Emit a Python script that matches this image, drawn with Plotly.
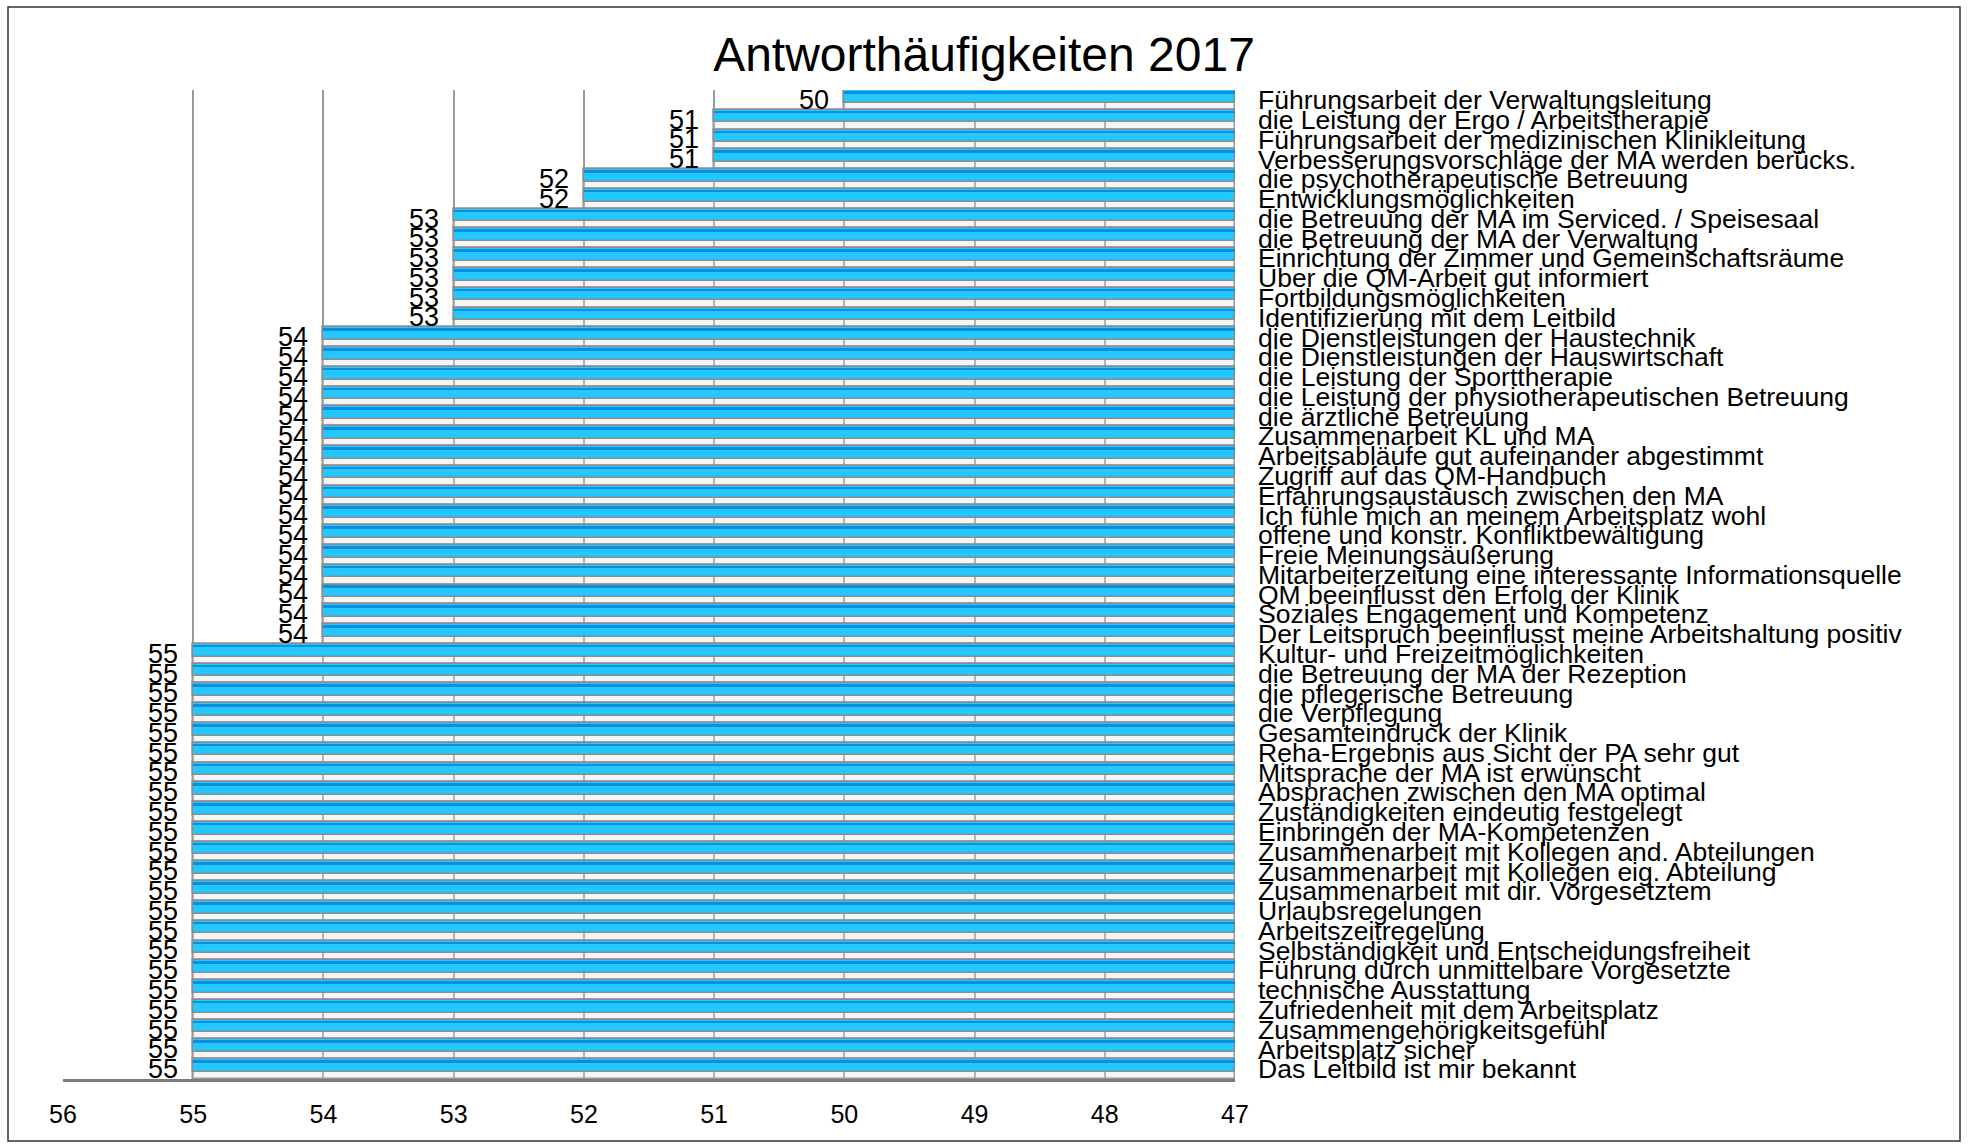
import plotly.graph_objects as go

title_text = "Antworthäufigkeiten 2017"

categories = [
    "Führungsarbeit der Verwaltungsleitung",
    "die Leistung der Ergo / Arbeitstherapie",
    "Führungsarbeit der medizinischen Klinikleitung",
    "Verbesserungsvorschläge der MA werden berücks.",
    "die psychotherapeutische Betreuung",
    "Entwicklungsmöglichkeiten",
    "die Betreuung der MA im Serviced. / Speisesaal",
    "die Betreuung der MA der Verwaltung",
    "Einrichtung der Zimmer und Gemeinschaftsräume",
    "Über die QM-Arbeit gut informiert",
    "Fortbildungsmöglichkeiten",
    "Identifizierung mit dem Leitbild",
    "die Dienstleistungen der Haustechnik",
    "die Dienstleistungen der Hauswirtschaft",
    "die Leistung der Sporttherapie",
    "die Leistung der physiotherapeutischen Betreuung",
    "die ärztliche Betreuung",
    "Zusammenarbeit KL und MA",
    "Arbeitsabläufe gut aufeinander abgestimmt",
    "Zugriff auf das QM-Handbuch",
    "Erfahrungsaustausch zwischen den MA",
    "Ich fühle mich an meinem Arbeitsplatz wohl",
    "offene und konstr. Konfliktbewältigung",
    "Freie Meinungsäußerung",
    "Mitarbeiterzeitung eine interessante Informationsquelle",
    "QM beeinflusst den Erfolg der Klinik",
    "Soziales Engagement und Kompetenz",
    "Der Leitspruch beeinflusst meine Arbeitshaltung positiv",
    "Kultur- und Freizeitmöglichkeiten",
    "die Betreuung der MA der Rezeption",
    "die pflegerische Betreuung",
    "die Verpflegung",
    "Gesamteindruck der Klinik",
    "Reha-Ergebnis aus Sicht der PA sehr gut",
    "Mitsprache der MA ist erwünscht",
    "Absprachen zwischen den MA optimal",
    "Zuständigkeiten eindeutig festgelegt",
    "Einbringen der MA-Kompetenzen",
    "Zusammenarbeit mit Kollegen and. Abteilungen",
    "Zusammenarbeit mit Kollegen eig. Abteilung",
    "Zusammenarbeit mit dir. Vorgesetztem",
    "Urlaubsregelungen",
    "Arbeitszeitregelung",
    "Selbständigkeit und Entscheidungsfreiheit",
    "Führung durch unmittelbare Vorgesetzte",
    "technische Ausstattung",
    "Zufriedenheit mit dem Arbeitsplatz",
    "Zusammengehörigkeitsgefühl",
    "Arbeitsplatz sicher",
    "Das Leitbild ist mir bekannt",
]

values = [
    50, 51, 51, 51, 52, 52,
    53, 53, 53, 53, 53, 53,
    54, 54, 54, 54, 54, 54, 54, 54, 54, 54, 54, 54, 54, 54, 54, 54,
    55, 55, 55, 55, 55, 55, 55, 55, 55, 55, 55, 55, 55, 55, 55, 55, 55, 55, 55, 55, 55, 55,
]

axis_base = 47
x_range = [56, 47]
x_ticks = [56, 55, 54, 53, 52, 51, 50, 49, 48, 47]

FONT = "Liberation Sans, Arial, Helvetica, sans-serif"
lengths = [v - axis_base for v in values]

fig = go.Figure()

# light "floor" strip of each row (full row height)
fig.add_trace(go.Bar(
    y=categories, x=lengths, base=axis_base, orientation="h",
    width=1.0, offset=-0.5,
    marker=dict(color="rgba(225,225,225,0.35)", line=dict(color="#9a9a9a", width=1.5)),
    hoverinfo="skip", showlegend=False,
))
# main cyan bar
fig.add_trace(go.Bar(
    y=categories, x=lengths, base=axis_base, orientation="h",
    width=0.64, offset=-0.5,
    marker=dict(color="#22C8FF", line=dict(color="#8c8c8c", width=1.5)),
    hoverinfo="skip", showlegend=False,
))
# darker top edge of the bar
fig.add_trace(go.Bar(
    y=categories, x=lengths, base=axis_base, orientation="h",
    width=0.13, offset=-0.45,
    marker=dict(color="#0A8EE0", line=dict(width=0)),
    hoverinfo="skip", showlegend=False,
))

annotations = []
for c, v in zip(categories, values):
    annotations.append(dict(
        x=v, y=c, xref="x", yref="y", text=str(v), showarrow=False,
        xanchor="right", yanchor="middle", xshift=-13, yshift=0,
        font=dict(family=FONT, size=27, color="black"),
    ))

L, R, T, B = 63, 733, 90, 68
W, H = 1968, 1147
pw, ph = W - L - R, H - T - B

fig.update_layout(
    width=W, height=H,
    margin=dict(l=L, r=R, t=T, b=B, pad=0),
    paper_bgcolor="white", plot_bgcolor="white",
    barmode="overlay", bargap=0,
    title=dict(text=title_text, x=0.5, xanchor="center", y=1 - 54 / H, yanchor="middle",
               font=dict(family=FONT, size=48, color="black")),
    font=dict(family=FONT, color="black"),
    hovermode=False,
    xaxis=dict(
        range=x_range, tickmode="array", tickvals=x_ticks, ticktext=[str(t) for t in x_ticks],
        showgrid=True, gridcolor="#9a9a9a", gridwidth=2, zeroline=False,
        showline=True, linecolor="#7a7a7a", linewidth=2.5, mirror=False,
        ticks="", ticklabelstandoff=11,
        tickfont=dict(family=FONT, size=25, color="black"),
    ),
    yaxis=dict(
        type="category", categoryorder="array", categoryarray=categories,
        range=[len(categories) - 0.5, -0.5],
        tickmode="array", tickvals=categories, ticktext=categories,
        side="right", showgrid=False, zeroline=False,
        showline=False, ticks="", ticklabelstandoff=22,
        tickfont=dict(family=FONT, size=26.5, color="black"),
    ),
    annotations=annotations,
    shapes=[dict(
        type="rect", xref="paper", yref="paper",
        x0=(8 - L) / pw, x1=(1960 - L) / pw,
        y0=(H - B - 1141) / ph, y1=(H - B - 7) / ph,
        line=dict(color="#333333", width=1.5), fillcolor="rgba(0,0,0,0)", layer="below",
    )],
)

fig.write_html(
    "out.html",
    config={"displayModeBar": False},
    post_script="document.body.style.margin='0';document.body.style.overflow='hidden';",
)
